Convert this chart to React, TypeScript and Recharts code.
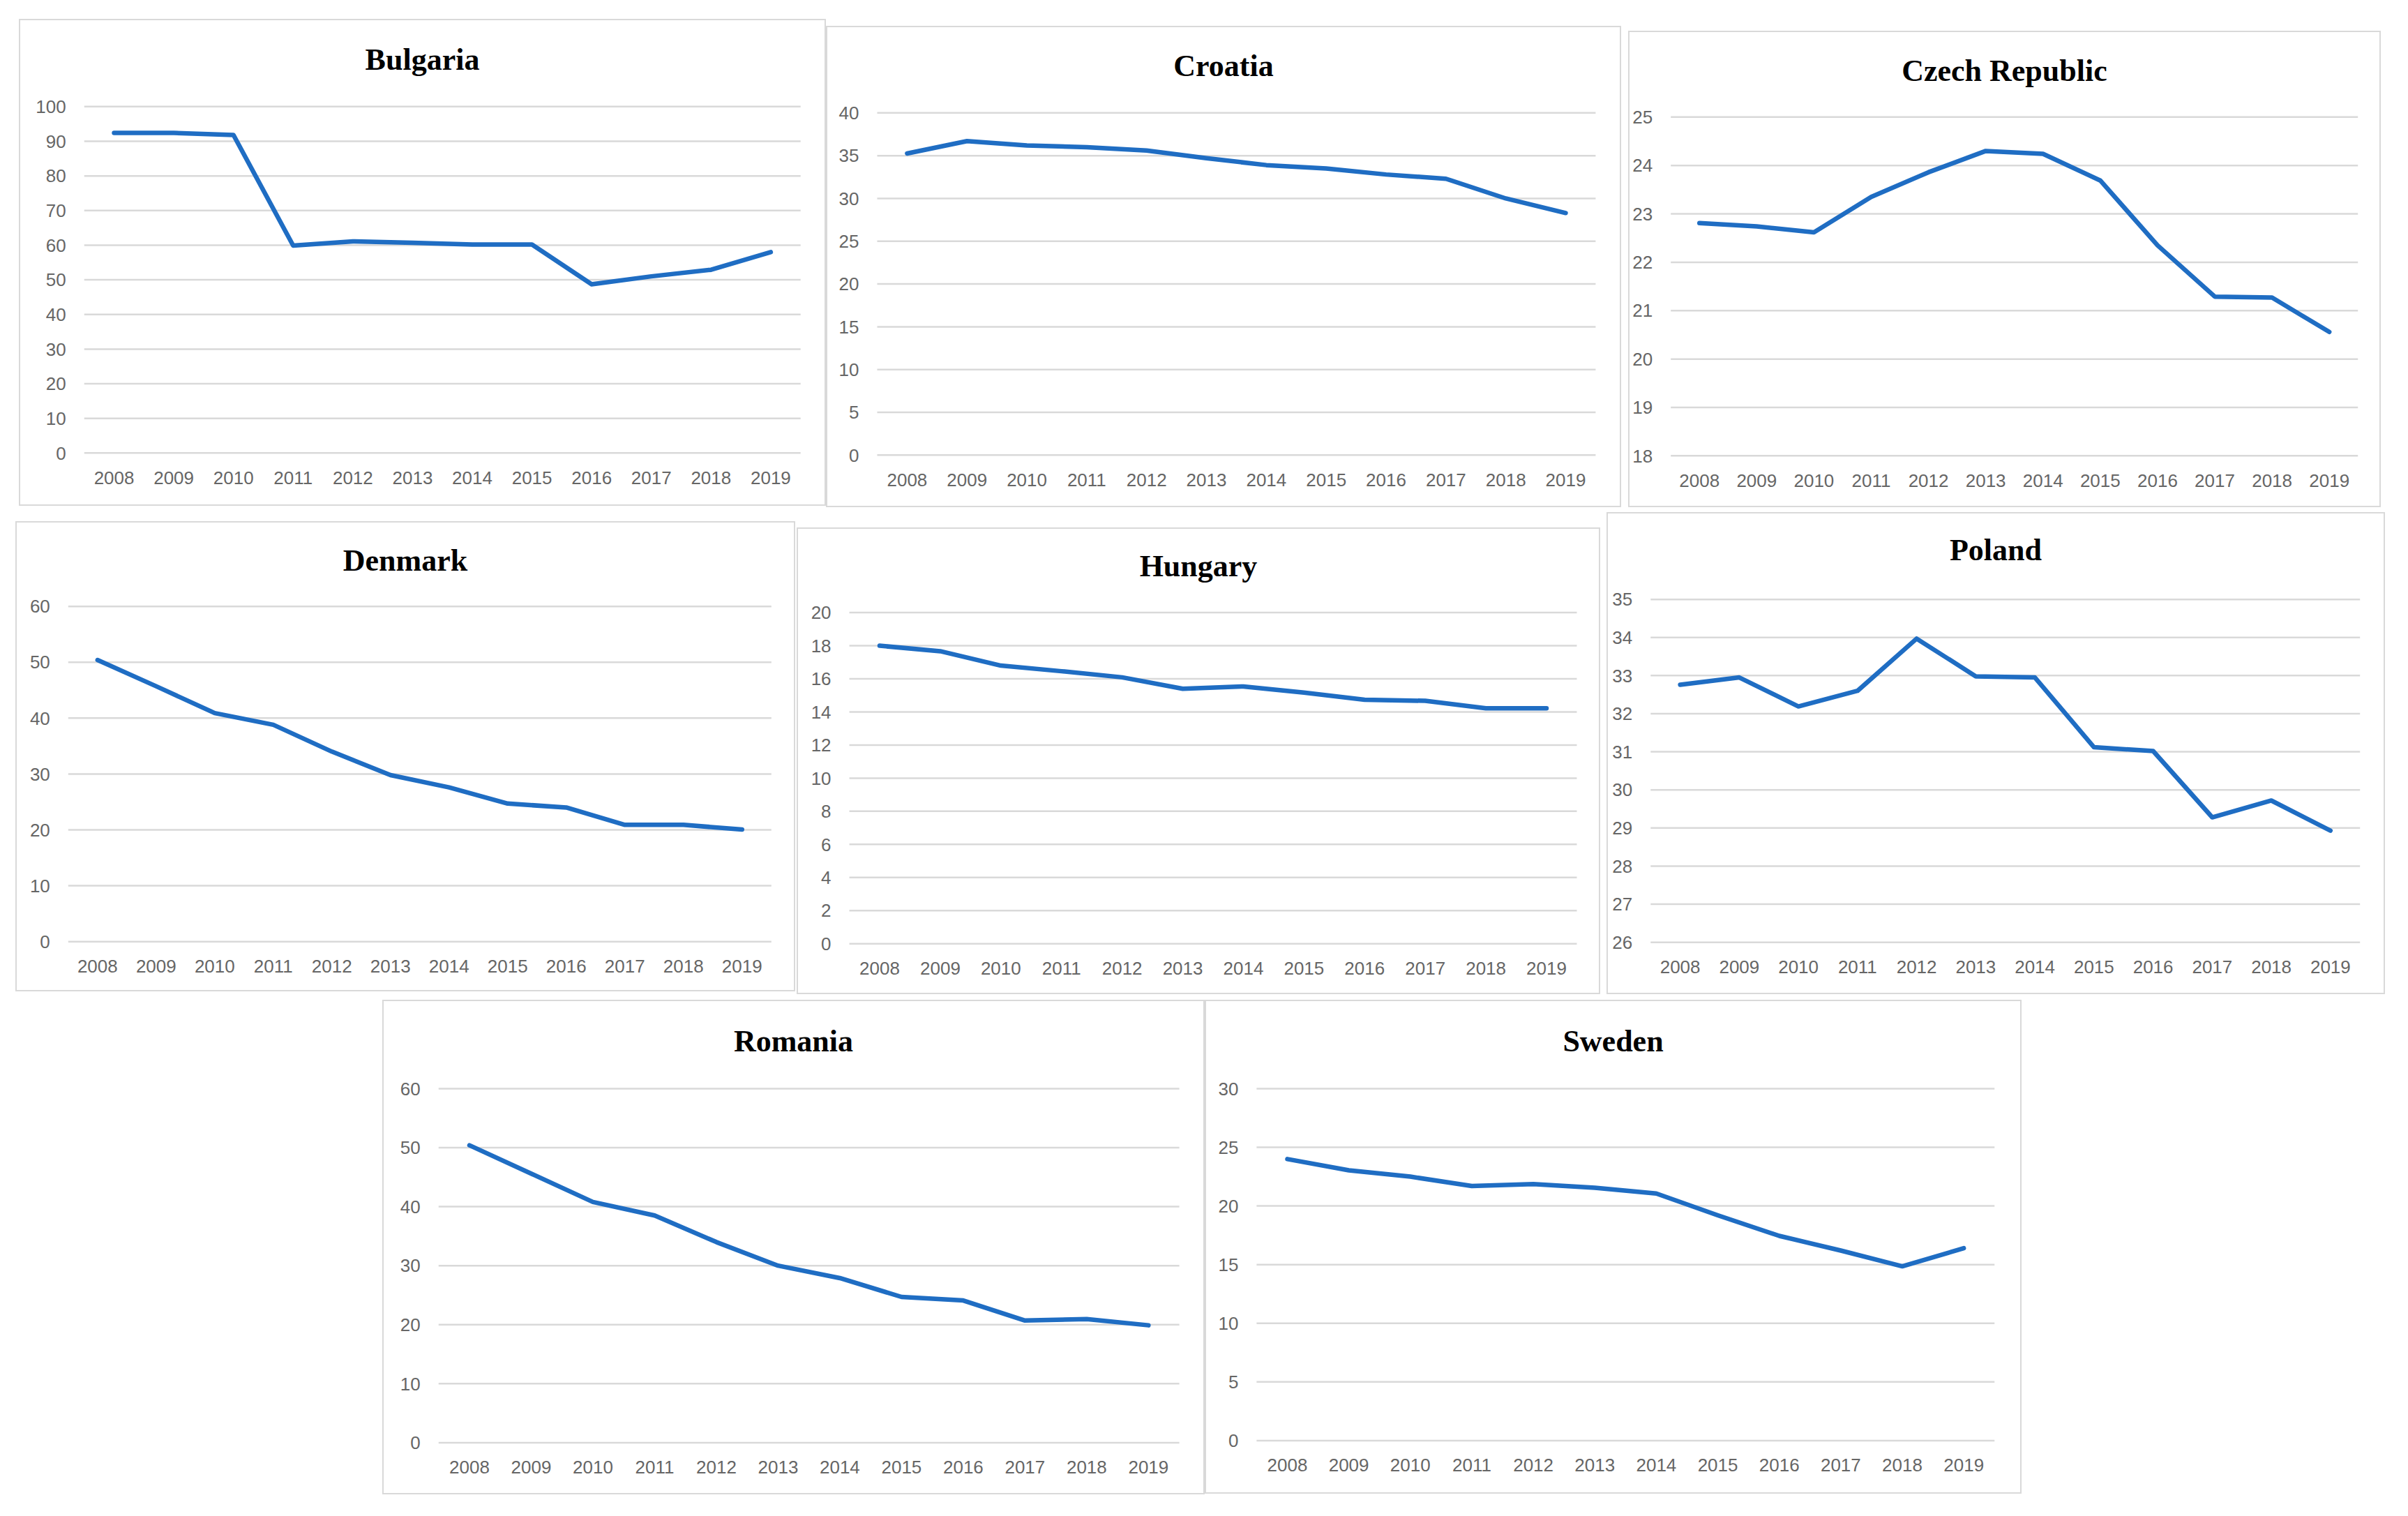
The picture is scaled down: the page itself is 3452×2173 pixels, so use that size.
import React from 'react'
import { LineChart, Line, XAxis, YAxis, CartesianGrid } from 'recharts'

const years = ['2008', '2009', '2010', '2011', '2012', '2013', '2014', '2015', '2016', '2017', '2018', '2019']

const bulgaria = [92.4, 92.4, 91.8, 59.9, 61.1, 60.7, 60.2, 60.2, 48.7, 51.0, 52.9, 58.0]
const croatia = [35.26, 36.7, 36.2, 36.0, 35.6, 34.7, 33.9, 33.5, 32.8, 32.3, 30.0, 28.3]
const czechRepublic = [22.81, 22.74, 22.62, 23.35, 23.86, 24.3, 24.24, 23.69, 22.35, 21.29, 21.27, 20.56]
const denmark = [50.4, 45.7, 40.9, 38.8, 34.0, 29.8, 27.6, 24.7, 24.0, 20.9, 20.9, 20.05]
const hungary = [18.0, 17.67, 16.8, 16.46, 16.09, 15.4, 15.54, 15.17, 14.74, 14.67, 14.22, 14.22]
const poland = [32.76, 32.95, 32.19, 32.6, 33.97, 32.98, 32.95, 31.12, 31.02, 29.28, 29.72, 28.93]
const romania = [50.4, 45.6, 40.8, 38.5, 34.0, 30.0, 27.9, 24.7, 24.1, 20.7, 20.95, 19.9]
const sweden = [24.0, 23.04, 22.5, 21.7, 21.86, 21.55, 21.06, 19.2, 17.45, 16.2, 14.86, 16.4]

const ticks0to100 = [0, 10, 20, 30, 40, 50, 60, 70, 80, 90, 100]
const ticks0to40 = [0, 5, 10, 15, 20, 25, 30, 35, 40]
const ticks18to25 = [18, 19, 20, 21, 22, 23, 24, 25]
const ticks0to60 = [0, 10, 20, 30, 40, 50, 60]
const ticks0to20 = [0, 2, 4, 6, 8, 10, 12, 14, 16, 18, 20]
const ticks26to35 = [26, 27, 28, 29, 30, 31, 32, 33, 34, 35]
const ticks0to30 = [0, 5, 10, 15, 20, 25, 30]

const LINE = '#1f6dc3'
const GRID = '#d9d9d9'
const LABEL = '#666666'

// page positions (px) of each panel box, its plot area and its title
type Layout = {
  x: number; y: number; w: number; h: number
  px1: number; px2: number; pyTop: number; pyBot: number
  titleY: number
}

// small correction of the measured positions
const SX = 0.998
const SY = 0.999

const panels: { title: string; values: number[]; ticks: number[]; layout: Layout }[] = [
  { title: 'Bulgaria', values: bulgaria, ticks: ticks0to100,
    layout: { x: 27, y: 27, w: 1159, h: 699, px1: 121, px2: 1150, pyTop: 153, pyBot: 650, titleY: 86 } },
  { title: 'Croatia', values: croatia, ticks: ticks0to40,
    layout: { x: 1186, y: 37, w: 1142, h: 691, px1: 1260, px2: 2292, pyTop: 162, pyBot: 653, titleY: 95 } },
  { title: 'Czech Republic', values: czechRepublic, ticks: ticks18to25,
    layout: { x: 2339, y: 44, w: 1081, h: 684, px1: 2400, px2: 3387, pyTop: 168, pyBot: 654, titleY: 102 } },
  { title: 'Denmark', values: denmark, ticks: ticks0to60,
    layout: { x: 22, y: 748, w: 1120, h: 675, px1: 98, px2: 1108, pyTop: 870, pyBot: 1351, titleY: 805 } },
  { title: 'Hungary', values: hungary, ticks: ticks0to20,
    layout: { x: 1144, y: 757, w: 1154, h: 670, px1: 1220, px2: 2265, pyTop: 879, pyBot: 1354, titleY: 813 } },
  { title: 'Poland', values: poland, ticks: ticks26to35,
    layout: { x: 2308, y: 735, w: 1118, h: 692, px1: 2371, px2: 3390, pyTop: 860, pyBot: 1352, titleY: 790 } },
  { title: 'Romania', values: romania, ticks: ticks0to60,
    layout: { x: 549, y: 1434, w: 1181, h: 710, px1: 630, px2: 1694, pyTop: 1562, pyBot: 2070, titleY: 1494 } },
  { title: 'Sweden', values: sweden, ticks: ticks0to30,
    layout: { x: 1730, y: 1434, w: 1173, h: 709, px1: 1805, px2: 2865, pyTop: 1562, pyBot: 2067, titleY: 1494 } },
]

const Y_AXIS_W = 60
const X_AXIS_H = 30
const TITLE_SIZE = 44

function scaleLayout(l: Layout): Layout {
  return {
    x: Math.round(l.x * SX), y: Math.round(l.y * SY),
    w: Math.round(l.w * SX), h: Math.round(l.h * SY),
    px1: l.px1 * SX, px2: l.px2 * SX,
    pyTop: l.pyTop * SY, pyBot: l.pyBot * SY,
    titleY: l.titleY * SY,
  }
}

function Panel({ title, values, ticks, layout: raw }: { title: string; values: number[]; ticks: number[]; layout: Layout }) {
  const layout = scaleLayout(raw)
  const data = years.map((year, i) => ({ year, value: values[i] }))
  const plotW = layout.px2 - layout.px1
  const pad = plotW / 24
  const margin = {
    top: layout.pyTop - layout.y,
    left: layout.px1 - layout.x - Y_AXIS_W,
    right: layout.x + layout.w - layout.px2,
    bottom: layout.y + layout.h - layout.pyBot - X_AXIS_H,
  }
  const tickStyle = { fill: LABEL, fontSize: 26, fontFamily: '"Liberation Sans", Arial, sans-serif' }

  return (
    <div
      style={{
        position: 'absolute',
        left: layout.x,
        top: layout.y,
        width: layout.w,
        height: layout.h,
        border: `2px solid ${GRID}`,
        boxSizing: 'border-box',
        background: '#fff',
      }}
    >
      <div
        style={{
          position: 'absolute',
          left: 0,
          width: '100%',
          top: layout.titleY - layout.y - TITLE_SIZE / 2 - 2,
          lineHeight: `${TITLE_SIZE}px`,
          textAlign: 'center',
          fontFamily: '"Liberation Serif", "Times New Roman", serif',
          fontWeight: 'bold',
          fontSize: TITLE_SIZE,
          color: '#000',
        }}
      >
        {title}
      </div>
      <div style={{ position: 'absolute', left: -2, top: -2 }}>
        <LineChart width={layout.w} height={layout.h} data={data} margin={margin}>
          <CartesianGrid vertical={false} stroke={GRID} strokeWidth={2.5} />
          <XAxis
            dataKey="year"
            height={X_AXIS_H}
            padding={{ left: pad, right: pad }}
            axisLine={false}
            tickLine={false}
            tickMargin={20}
            tick={tickStyle}
            interval={0}
          />
          <YAxis
            width={Y_AXIS_W}
            domain={[ticks[0], ticks[ticks.length - 1]]}
            ticks={ticks}
            interval={0}
            axisLine={false}
            tickLine={false}
            tickMargin={20}
            tick={tickStyle}
          />
          <Line
            type="linear"
            dataKey="value"
            stroke={LINE}
            strokeWidth={6.5}
            strokeLinejoin="round"
            strokeLinecap="round"
            dot={false}
            activeDot={false}
            isAnimationActive={false}
          />
        </LineChart>
      </div>
    </div>
  )
}

export default function App() {
  return (
    <div
      style={{
        position: 'absolute',
        left: 0,
        top: 0,
        width: 3452,
        height: 2173,
        background: '#fff',
        overflow: 'hidden',
      }}
    >
      {panels.map((p) => (
        <Panel key={p.title} {...p} />
      ))}
    </div>
  )
}
